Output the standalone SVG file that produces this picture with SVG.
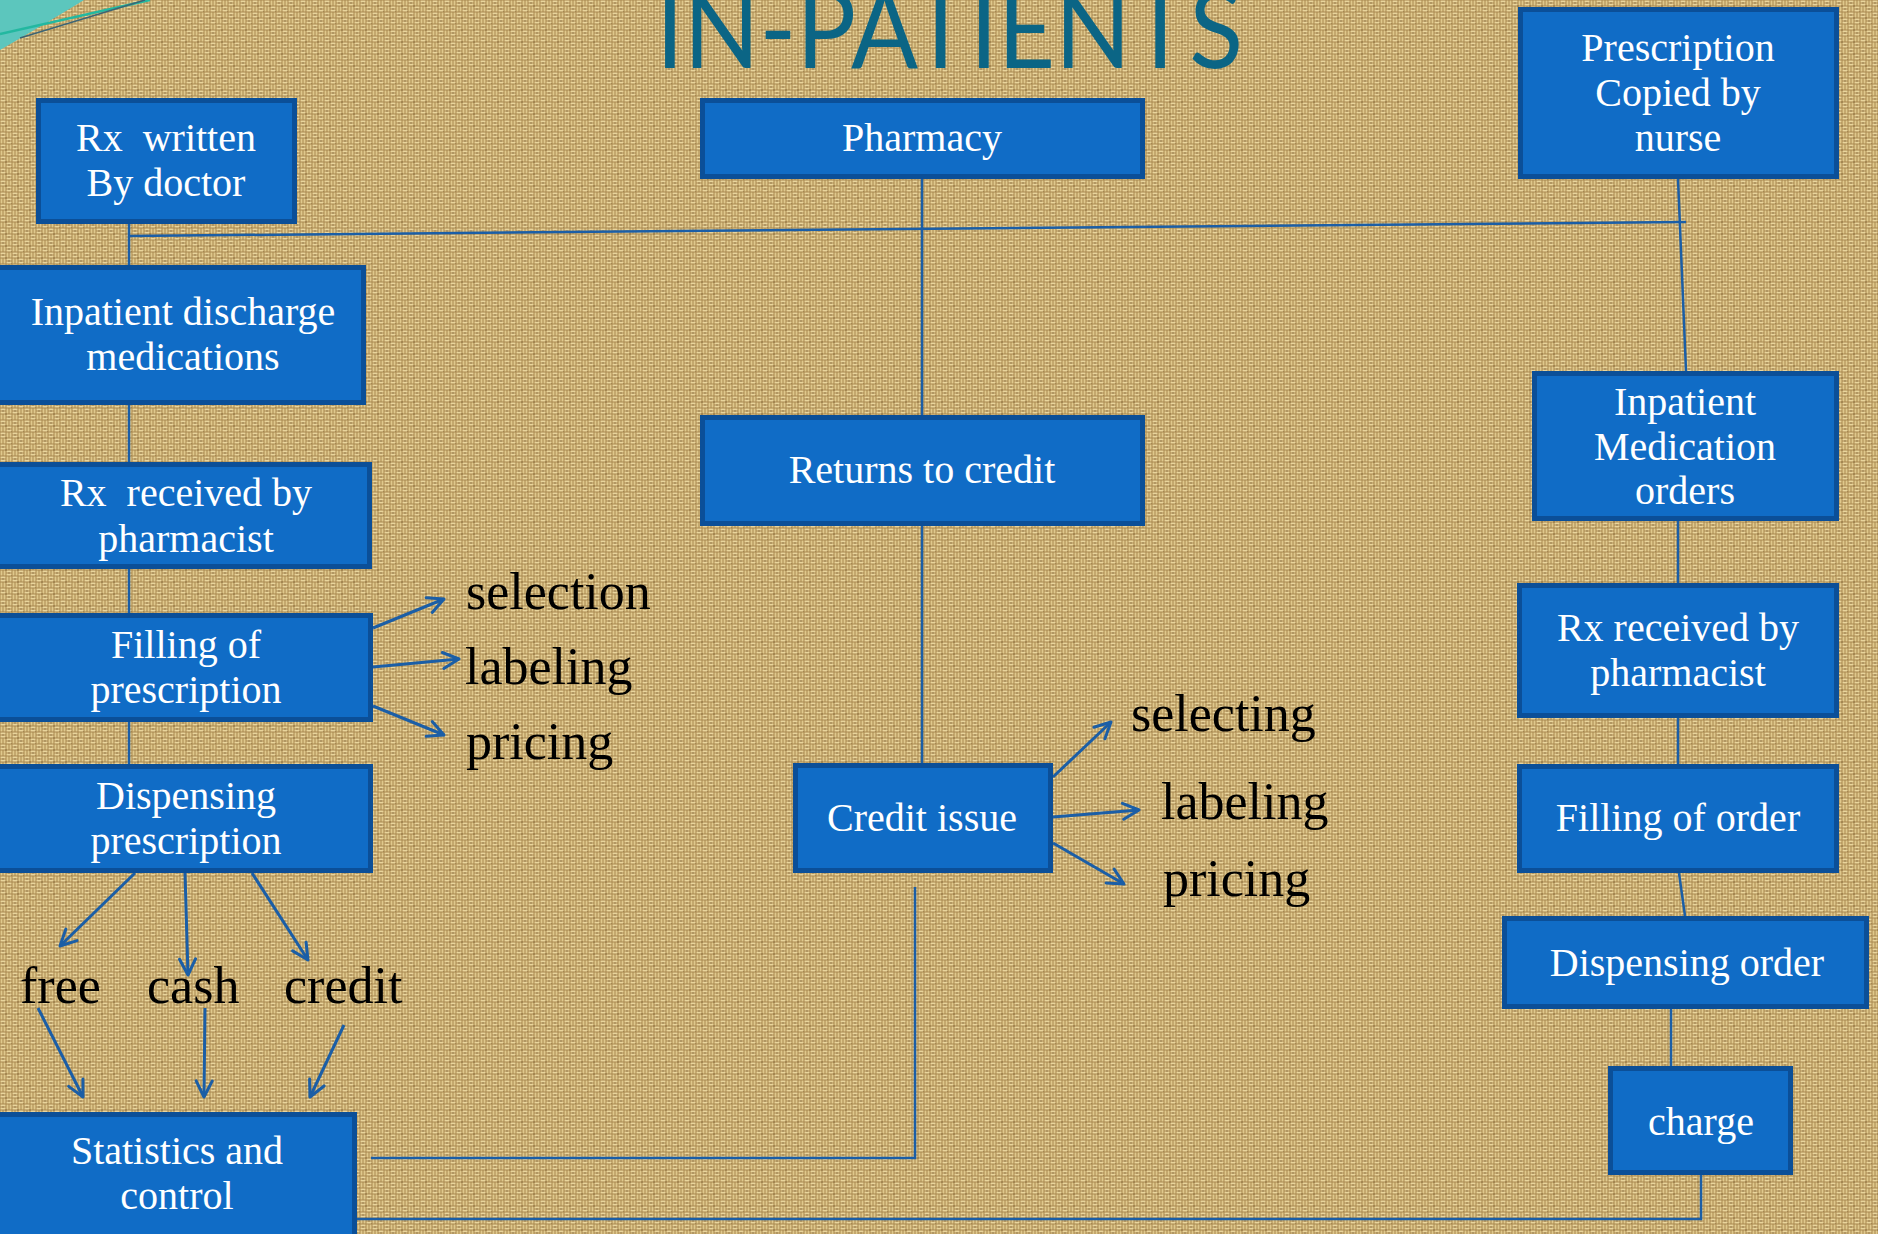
<svg xmlns="http://www.w3.org/2000/svg" width="1878" height="1234" viewBox="0 0 1878 1234">
<defs>
<pattern id="burlap" width="12" height="12" patternUnits="userSpaceOnUse">
<rect width="12" height="12" fill="#a9884f"/>
<path d="M0.5 0.5h5v2h-5z M0.5 3.5h5v2h-5z M6.5 6.5h5v2h-5z M6.5 9.5h5v2h-5z" fill="#e9d59c"/>
<path d="M6.5 0.5h2v5h-2z M9.5 0.5h2v5h-2z M0.5 6.5h2v5h-2z M3.5 6.5h2v5h-2z" fill="#dfc88c"/>
<path d="M5.5 5.5h1v1h-1z M11.5 11.5h1v1h-1z M2.5 2.5h1v1h-1z M8.5 8.5h1v1h-1z" fill="#6a4e24"/>
</pattern>
<marker id="arr" viewBox="0 0 20 20" refX="18" refY="10" markerWidth="20" markerHeight="20" markerUnits="userSpaceOnUse" orient="auto">
<path d="M2,2 L18,10 L2,18" fill="none" stroke="#1b5ea6" stroke-width="3" stroke-linecap="round" stroke-linejoin="round"/>
</marker>
<style>
.box{fill:#106cc6;stroke:#0b4f98;stroke-width:5}
.bt{font-family:"Liberation Serif","Times New Roman",serif;font-size:40px;fill:#ffffff;text-anchor:middle;white-space:pre}
.lbl{font-family:"Liberation Serif","Times New Roman",serif;font-size:52px;fill:#000000}
.con{fill:none;stroke:#1b5ea6;stroke-width:2.5}
.ar{fill:none;stroke:#1b5ea6;stroke-width:3;marker-end:url(#arr)}
</style>
</defs>
<rect width="1878" height="1234" fill="url(#burlap)"/>
<g id="corner">
<path d="M0,0 H84 Q45,24 0,50 Z" fill="#5cc6bd"/>
<line x1="0" y1="34" x2="150" y2="0" stroke="#23b8a0" stroke-width="2.5"/>
<line x1="20" y1="38" x2="145" y2="0" stroke="#3c6474" stroke-width="1.5"/>
</g>
<text id="title" x="656" y="68" textLength="587" lengthAdjust="spacingAndGlyphs" font-family="Lato, 'Open Sans', sans-serif" font-size="108" fill="#0b6585">IN-PATIENTS</text>

<g id="connectors">
<line class="con" x1="129" y1="224" x2="129" y2="265"/>
<line class="con" x1="129" y1="236" x2="1686" y2="222"/>
<line class="con" x1="129" y1="405" x2="129" y2="462"/>
<line class="con" x1="129" y1="569" x2="129" y2="613"/>
<line class="con" x1="129" y1="722" x2="129" y2="764"/>
<line class="con" x1="922" y1="179" x2="922" y2="415"/>
<line class="con" x1="922" y1="525" x2="922" y2="763"/>
<line class="con" x1="1678" y1="179" x2="1686" y2="371"/>
<line class="con" x1="1678" y1="521" x2="1678" y2="583"/>
<line class="con" x1="1678" y1="718" x2="1678" y2="764"/>
<line class="con" x1="1679" y1="873" x2="1685" y2="916"/>
<line class="con" x1="1671" y1="1009" x2="1671" y2="1066"/>
<polyline class="con" points="1701,1175 1701,1219 340,1219"/>
<polyline class="con" points="915,887 915,1158 371,1158"/>
<line class="ar" x1="373" y1="628" x2="444" y2="599"/>
<line class="ar" x1="373" y1="667" x2="459" y2="659"/>
<line class="ar" x1="373" y1="706" x2="444" y2="735"/>
<line class="ar" x1="1053" y1="777" x2="1111" y2="722"/>
<line class="ar" x1="1053" y1="817" x2="1139" y2="810"/>
<line class="ar" x1="1053" y1="843" x2="1124" y2="884"/>
<line class="ar" x1="135" y1="873" x2="60" y2="946"/>
<line class="ar" x1="185" y1="873" x2="188" y2="975"/>
<line class="ar" x1="252" y1="873" x2="308" y2="960"/>
<line class="ar" x1="38" y1="1008" x2="83" y2="1097"/>
<line class="ar" x1="205" y1="1008" x2="204" y2="1097"/>
<line class="ar" x1="344" y1="1025" x2="310" y2="1097"/>
</g>

<g id="rxDoctor"><rect class="box" x="38.5" y="100.5" width="256" height="121"/>
<text class="bt" x="166" y="151">Rx  written</text><text class="bt" x="166" y="196">By doctor</text></g>
<g id="pharmacy"><rect class="box" x="702.5" y="100.5" width="440" height="76"/>
<text class="bt" x="922" y="151">Pharmacy</text></g>
<g id="nurse"><rect class="box" x="1520.5" y="9.5" width="316" height="167"/>
<text class="bt" x="1678" y="61">Prescription</text><text class="bt" x="1678" y="106">Copied by</text><text class="bt" x="1678" y="151">nurse</text></g>
<g id="discharge"><rect class="box" x="-2.5" y="267.5" width="366" height="135"/>
<text class="bt" x="183" y="325">Inpatient discharge</text><text class="bt" x="183" y="370">medications</text></g>
<g id="returns"><rect class="box" x="702.5" y="417.5" width="440" height="106"/>
<text class="bt" x="922" y="483">Returns to credit</text></g>
<g id="medOrders"><rect class="box" x="1534.5" y="373.5" width="302" height="145"/>
<text class="bt" x="1685" y="415">Inpatient</text><text class="bt" x="1685" y="460">Medication</text><text class="bt" x="1685" y="504">orders</text></g>
<g id="rxLeft"><rect class="box" x="-2.5" y="464.5" width="372" height="102"/>
<text class="bt" x="186" y="506">Rx  received by</text><text class="bt" x="186" y="552">pharmacist</text></g>
<g id="rxRight"><rect class="box" x="1519.5" y="585.5" width="317" height="130"/>
<text class="bt" x="1678" y="641">Rx received by</text><text class="bt" x="1678" y="686">pharmacist</text></g>
<g id="filling"><rect class="box" x="-2.5" y="615.5" width="373" height="104"/>
<text class="bt" x="186" y="658">Filling of</text><text class="bt" x="186" y="703">prescription</text></g>
<g id="dispensing"><rect class="box" x="-2.5" y="766.5" width="373" height="104"/>
<text class="bt" x="186" y="809">Dispensing</text><text class="bt" x="186" y="854">prescription</text></g>
<g id="creditIssue"><rect class="box" x="795.5" y="765.5" width="255" height="105"/>
<text class="bt" x="922" y="831">Credit issue</text></g>
<g id="fillOrder"><rect class="box" x="1519.5" y="766.5" width="317" height="104"/>
<text class="bt" x="1678" y="831">Filling of order</text></g>
<g id="dispOrder"><rect class="box" x="1504.5" y="918.5" width="362" height="88"/>
<text class="bt" x="1687" y="976">Dispensing order</text></g>
<g id="charge"><rect class="box" x="1610.5" y="1068.5" width="180" height="104"/>
<text class="bt" x="1701" y="1135">charge</text></g>
<g id="stats"><rect class="box" x="-2.5" y="1114.5" width="357" height="130"/>
<text class="bt" x="177" y="1164">Statistics and</text><text class="bt" x="177" y="1209">control</text></g>

<g id="labels">
<text class="lbl" x="466" y="609">selection</text>
<text class="lbl" x="465" y="684">labeling</text>
<text class="lbl" x="466" y="759">pricing</text>
<text class="lbl" x="1131" y="731">selecting</text>
<text class="lbl" x="1161" y="819">labeling</text>
<text class="lbl" x="1163" y="896">pricing</text>
<text class="lbl" x="20" y="1003">free</text>
<text class="lbl" x="147" y="1003">cash</text>
<text class="lbl" x="284" y="1003">credit</text>
</g>
</svg>
